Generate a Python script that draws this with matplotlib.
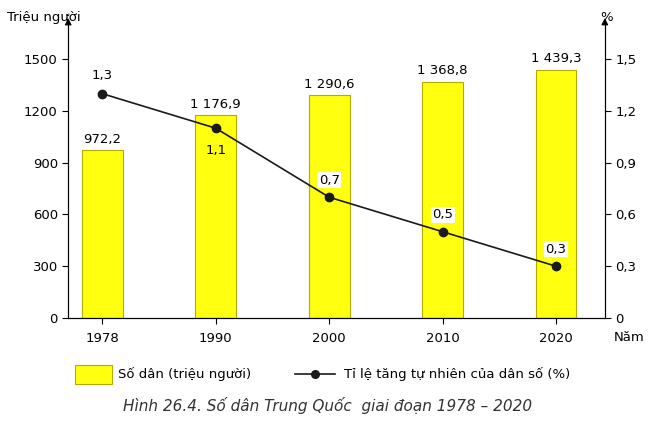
import matplotlib
matplotlib.use("Agg")
import matplotlib.pyplot as plt
import numpy as np

years = ["1978", "1990", "2000", "2010", "2020"]
population = [972.2, 1176.9, 1290.6, 1368.8, 1439.3]
pop_labels = ["972,2", "1 176,9", "1 290,6", "1 368,8", "1 439,3"]
growth = [1.3, 1.1, 0.7, 0.5, 0.3]
growth_labels = ["1,3", "1,1", "0,7", "0,5", "0,3"]

fig = plt.figure(figsize=(6.56, 4.24), dpi=100)
ax = fig.add_axes([0.104, 0.25, 0.818, 0.70])
ax2 = ax.twinx()
x = np.arange(len(years))

YTOP = 1720
ax.bar(x, population, 0.36, color="#ffff10", edgecolor="#b8a800", lw=0.8, zorder=2)
for xi, v, t in zip(x, population, pop_labels):
    ax.text(xi, v + 25, t, ha="center", va="bottom", fontsize=9.5)
ax.set_ylim(0, YTOP)
ax.set_xlim(-0.3, 4.43)
ax.set_yticks([0, 300, 600, 900, 1200, 1500])
ax.set_xticks(x)
ax.set_xticklabels(years, fontsize=9.5)
ax.tick_params(axis="y", labelsize=9.5, direction="out", length=4)
ax.tick_params(axis="x", length=4, pad=6)
ax.spines["top"].set_visible(False)
ax2.spines["top"].set_visible(False)

ax2.set_ylim(0, 1.5 * YTOP / 1500)
ax2.set_yticks([0, 0.3, 0.6, 0.9, 1.2, 1.5])
ax2.set_yticklabels(["0", "0,3", "0,6", "0,9", "1,2", "1,5"])
ax2.tick_params(axis="y", labelsize=9.5, length=4)
ax2.plot(x, growth, "-o", color="#1a1a1a", lw=1.2, ms=6, zorder=3)
for i, (xi, v, t) in enumerate(zip(x, growth, growth_labels)):
    if i == 0:
        ax2.text(xi, v + 0.07, t, ha="center", va="bottom", fontsize=9.5)
    elif i == 1:
        ax2.text(xi, v - 0.09, t, ha="center", va="top", fontsize=9.5)
    else:
        ax2.text(xi, v + 0.06, t, ha="center", va="bottom", fontsize=9.5,
                 bbox=dict(facecolor="white", edgecolor="none", pad=1))

# arrows on axes
ax.annotate("", xy=(0, 1.02), xytext=(0, 0.98), xycoords="axes fraction",
            arrowprops=dict(arrowstyle="-|>", color="black", lw=0.8))
ax.annotate("", xy=(1, 1.02), xytext=(1, 0.98), xycoords="axes fraction",
            arrowprops=dict(arrowstyle="-|>", color="black", lw=0.8))
fig.text(0.01, 0.975, "Triệu người", fontsize=9.5, va="top")
fig.text(0.915, 0.975, "%", fontsize=9.5, va="top")
fig.text(0.935, 0.195, "Năm", fontsize=9.5)

# legend
fig.patches.append(plt.Rectangle((0.115, 0.095), 0.055, 0.045, transform=fig.transFigure,
                                 facecolor="#ffff10", edgecolor="#b8a800", lw=0.8))
fig.text(0.18, 0.117, "Số dân (triệu người)", fontsize=9.5, va="center")
fig.lines.append(plt.Line2D([0.45, 0.51], [0.117, 0.117], transform=fig.transFigure,
                            color="#1a1a1a", lw=1.2))
fig.lines.append(plt.Line2D([0.48], [0.117], transform=fig.transFigure,
                            color="#1a1a1a", marker="o", ms=5.5, lw=0))
fig.text(0.525, 0.117, "Tỉ lệ tăng tự nhiên của dân số (%)", fontsize=9.5, va="center")
fig.text(0.5, 0.03, "Hình 26.4. Số dân Trung Quốc  giai đoạn 1978 – 2020",
         fontsize=11, style="italic", ha="center", color="#333333")

fig.savefig("out.png", dpi=100)
